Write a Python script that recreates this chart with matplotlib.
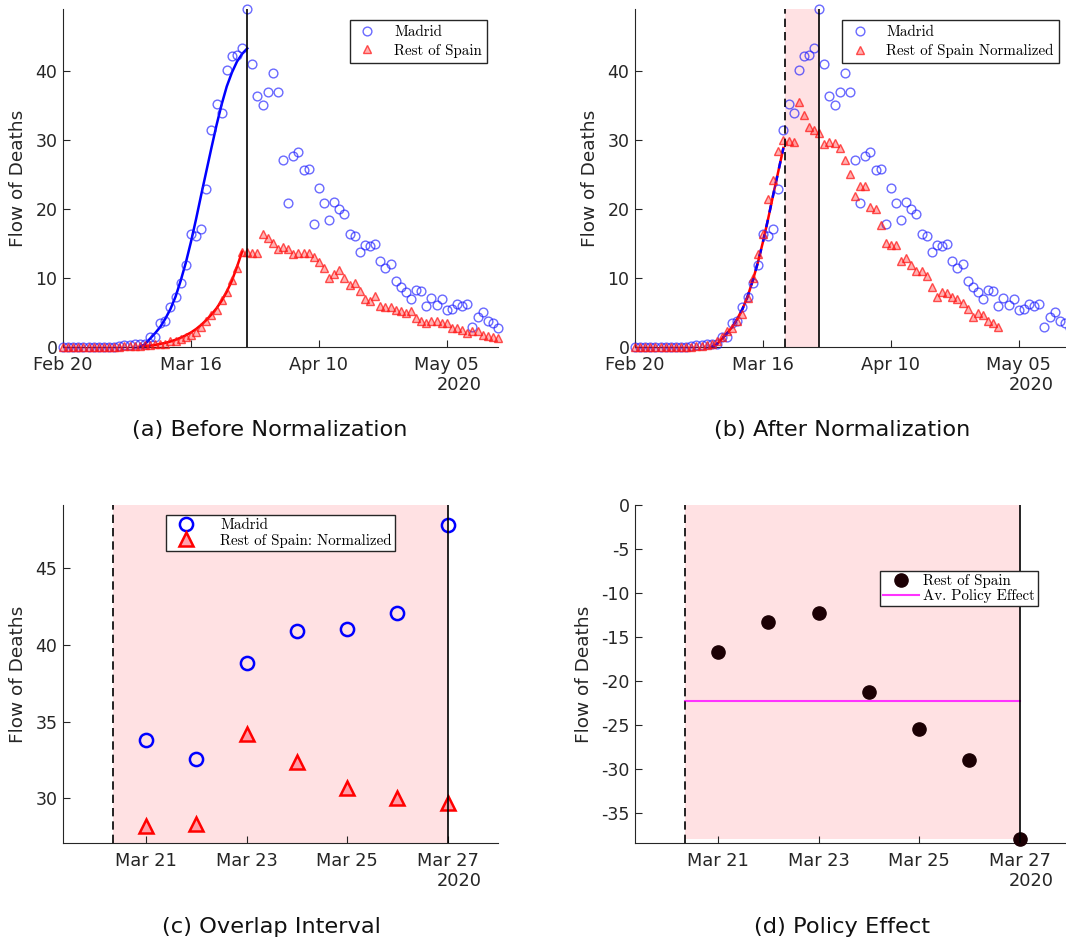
import numpy as np
import pandas as pd
import matplotlib
matplotlib.use('Agg')
import matplotlib.pyplot as plt
import matplotlib.dates as mdates
from matplotlib.lines import Line2D

plt.rcParams['axes.unicode_minus'] = False

# ---------------- data ----------------
series_start = '2020-02-20'
madrid = [0, 0, 0, 0, 0, 0, 0, 0, 0, 0, 0, 0.1, 0.3, 0.3, 0.4, 0.4, 0.5,
          1.5, 1.4, 3.5, 3.7, 5.8, 7.2, 9.2, 11.8, 16.4, 16.1, 17.1, 22.9,
          31.4, 35.1, 33.8, 40.1, 42.1, 42.2, 43.3, 48.9, 41.0, 36.3, 35.0,
          36.9, 39.6, 36.9, 27.0, 20.9, 27.7, 28.2, 25.6, 25.8, 17.8, 23.0,
          20.9, 18.4, 21.0, 19.9, 19.3, 16.4, 16.0, 13.8, 14.8, 14.6, 14.9,
          12.4, 11.4, 12.0, 9.5, 8.7, 8.0, 6.9, 8.2, 8.1, 6.0, 7.1, 6.1, 7.0,
          5.3, 5.5, 6.2, 6.0, 6.2, 2.9, 4.3, 5.0, 3.7, 3.5, 2.75]
rest_raw = [0, 0, 0, 0, 0, 0, 0, 0, 0, 0, 0, 0, 0.1, 0.1, 0.2, 0.2, 0.3,
            0.3, 0.4, 0.5, 0.5, 0.8, 0.9, 1.1, 1.4, 1.8, 2.2, 2.9, 3.7, 4.6,
            5.4, 6.8, 8.0, 9.7, 11.4, 13.8, 13.7, 13.6, 13.6, 16.4, 15.7,
            15.1, 14.2, 14.5, 14.2, 13.4, 13.6, 13.6, 13.6, 13.0, 12.3, 11.4,
            10.0, 10.5, 11.1, 10.0, 8.9, 9.3, 8.1, 6.9, 6.6, 7.4, 5.9, 5.8,
            5.8, 5.4, 5.2, 4.9, 5.2, 4.2, 3.7, 3.5, 3.7, 3.7, 3.5, 3.5, 2.75,
            2.75, 2.5, 2.0, 2.3, 2.3, 1.8, 1.6, 1.5, 1.3]
rest_norm = [0, 0, 0, 0, 0, 0, 0, 0, 0, 0, 0, 0, 0.1, 0.2, 0.3, 0.5, 0.8,
             1.5, 2.3, 2.8, 3.7, 4.8, 7.1, 10.0, 13.4, 16.3, 21.4, 24.2,
             28.4, 29.9, 29.8, 29.7, 35.4, 33.6, 31.9, 31.4, 31.0, 29.3,
             29.6, 29.5, 28.8, 27.1, 25.0, 21.8, 23.3, 23.3, 20.3, 19.9,
             17.7, 15.1, 14.8, 14.8, 12.4, 12.9, 11.9, 11.0, 11.0, 10.2, 8.7,
             7.3, 7.9, 7.8, 7.3, 6.9, 6.4, 5.5, 4.4, 4.9, 4.7, 3.7, 3.4, 2.85]

fit_madrid_start = '2020-03-06'
fit_madrid = [0.0, 0.4, 1.2, 2.0, 2.9, 4.1, 5.5, 7.3, 9.6, 12.2, 15.2, 18.5,
              22.0, 25.4, 28.8, 32.1, 35.1, 37.7, 39.7, 41.3, 42.4, 43.2]
fit_rest_start = '2020-03-07'
fit_rest_raw = [0.1, 0.2, 0.3, 0.45, 0.6, 0.8, 1.05, 1.35, 1.7, 2.1, 2.6,
                3.2, 3.9, 4.7, 5.6, 6.7, 8.0, 9.6, 11.6, 13.8]
fit_norm_end = '2020-03-20'

overlap_dates = ['2020-03-21', '2020-03-22', '2020-03-23', '2020-03-24',
                 '2020-03-25', '2020-03-26', '2020-03-27']
overlap_madrid = [33.8, 32.6, 38.8, 40.9, 41.0, 42.1, 47.8]
overlap_rest = [28.2, 28.35, 34.2, 32.35, 30.7, 30.0, 29.7]
policy_effect = [-16.7, -13.3, -12.3, -21.2, -25.5, -29.0, -38.0]
avg_policy_effect = -22.3

interval_start = '2020-03-20 08:24'
interval_end = '2020-03-27'

ticks_ab = ['2020-02-20', '2020-03-16', '2020-04-10', '2020-05-05']
ticks_cd = ['2020-03-21', '2020-03-23', '2020-03-25', '2020-03-27']
yticks_a = [0, 10, 20, 30, 40]
yticks_c = [30, 35, 40, 45]
yticks_d = [0, -5, -10, -15, -20, -25, -30, -35]
captions = ['(a) Before Normalization', '(b) After Normalization',
            '(c) Overlap Interval', '(d) Policy Effect']
year_label = '2020'

# ---------------- derived ----------------
d_madrid = pd.date_range(series_start, periods=len(madrid))
d_raw = pd.date_range(series_start, periods=len(rest_raw))
d_norm = pd.date_range(series_start, periods=len(rest_norm))
d_fit_m = pd.date_range(fit_madrid_start, periods=len(fit_madrid))
d_fit_r = pd.date_range(fit_rest_start, periods=len(fit_rest_raw))
d_over = pd.to_datetime(overlap_dates)
t_start = pd.Timestamp(interval_start)
t_end = pd.Timestamp(interval_end)
norm_mask = d_fit_m <= pd.Timestamp(fit_norm_end)

W, H = 1066, 942
fig = plt.figure(figsize=(W / 100, H / 100), dpi=100)

def px_axes(l, t, r, b):
    return fig.add_axes([l / W, 1 - b / H, (r - l) / W, (b - t) / H])

ax_a = px_axes(63, 9, 498, 347)
ax_b = px_axes(635, 9, 1070, 347)
ax_c = px_axes(63, 505, 498, 843)
ax_d = px_axes(635, 505, 1070, 843)

GRAY = '#262626'
LEGFONT = {'family': 'cmr10', 'size': 10.8}
PINK = '#ffe1e3'

def style(ax, ticks, fmt):
    for s in ['top', 'right']:
        ax.spines[s].set_visible(False)
    for s in ['left', 'bottom']:
        ax.spines[s].set_color(GRAY)
        ax.spines[s].set_linewidth(0.8)
    ax.tick_params(direction='in', length=5, width=0.8, colors=GRAY)
    ax.tick_params(axis='x', labelsize=12.8, pad=6.5)
    ax.tick_params(axis='y', labelsize=12.5, pad=4)
    ax.set_xticks(pd.to_datetime(ticks))
    ax.xaxis.set_major_formatter(mdates.DateFormatter(fmt))
    ax.set_ylabel('Flow of Deaths', fontsize=13.3, color=GRAY, labelpad=6)
    last = pd.Timestamp(ticks[-1])
    ax.annotate(year_label, xy=(mdates.date2num(last), 0),
                xycoords=ax.get_xaxis_transform(), xytext=(12, -38),
                textcoords='offset pixels', ha='center', va='center',
                fontsize=12.8, color=GRAY)

circ_kw = dict(ls='none', marker='o', ms=6.3, mfc='none',
               mec=(0.1, 0.1, 1.0, 0.65), mew=1.0)
tri_kw = dict(ls='none', marker='^', ms=6.3, mfc=(1, 0, 0, 0.3),
              mec=(1, 0.1, 0.1, 0.75), mew=1.0)
leg_common = dict(prop=LEGFONT, fancybox=False, edgecolor=GRAY,
                  framealpha=1, borderaxespad=0)

# ---- (a) ----
ax = ax_a
ax.plot(d_fit_m, fit_madrid, color='#0000ff', lw=1.8, zorder=2)
ax.plot(d_fit_r, fit_rest_raw, color='#ff0000', lw=1.8, zorder=2)
ax.plot(d_madrid, madrid, zorder=3, clip_on=False, **circ_kw)
ax.plot(d_raw, rest_raw, zorder=3, clip_on=False, **tri_kw)
ax.axvline(t_end, color='k', lw=1.2, zorder=4)
ax.set_xlim(d_madrid[0], d_madrid[-1])
ax.set_ylim(0, max(madrid))
ax.set_yticks(yticks_a)
style(ax, ticks_ab, '%b %d')
ax.legend([Line2D([], [], **circ_kw), Line2D([], [], **tri_kw)],
          ['Madrid', 'Rest of Spain'], loc='upper right',
          bbox_to_anchor=(0.975, 0.967), handlelength=1.6,
          borderpad=0.35, labelspacing=0.3, handletextpad=1.0, **leg_common)

# ---- (b) ----
ax = ax_b
ax.axvspan(t_start, t_end, color=PINK, zorder=0, lw=0)
ax.plot(d_fit_m[norm_mask], np.array(fit_madrid)[norm_mask],
        color='#ff0000', lw=1.8, zorder=2)
ax.plot(d_fit_m[norm_mask], np.array(fit_madrid)[norm_mask],
        color='#0000ff', lw=1.8, ls=(0, (3, 3)), zorder=2)
ax.plot(d_madrid, madrid, zorder=3, clip_on=False, **circ_kw)
ax.plot(d_norm, rest_norm, zorder=3, clip_on=False, **tri_kw)
ax.axvline(t_end, color='k', lw=1.2, zorder=4)
ax.axvline(t_start, color='k', lw=1.2, ls=(0, (5, 3)), zorder=4)
ax.set_xlim(d_madrid[0], d_madrid[-1])
ax.set_ylim(0, max(madrid))
ax.set_yticks(yticks_a)
style(ax, ticks_ab, '%b %d')
ax.legend([Line2D([], [], **circ_kw), Line2D([], [], **tri_kw)],
          ['Madrid', 'Rest of Spain Normalized'], loc='upper right',
          bbox_to_anchor=(0.975, 0.967), handlelength=1.6,
          borderpad=0.35, labelspacing=0.3, handletextpad=1.0, **leg_common)

# ---- (c) ----
ax = ax_c
ax.axvspan(t_start, t_end, color=PINK, zorder=0, lw=0)
circ_c = dict(ls='none', marker='o', ms=9.5, mfc='none', mec='#0000ff',
              mew=1.8)
tri_c = dict(ls='none', marker='^', ms=9.5, mfc=(1, 0.55, 0.6, 0.8),
             mec='#ff0000', mew=1.8)
ax.plot(d_over, overlap_madrid, zorder=3, **circ_c)
ax.plot(d_over, overlap_rest, zorder=3, **tri_c)
ax.axvline(t_end, color='k', lw=1.2, zorder=4)
ax.axvline(t_start, color='k', lw=1.2, ls=(0, (5, 3)), zorder=4)
ax.set_xlim(t_start - pd.Timedelta(days=1), t_end + pd.Timedelta(days=1))
ax.set_ylim(27.1, 49.1)
ax.set_yticks(yticks_c)
style(ax, ticks_cd, '%b %d')
ax.legend([Line2D([], [], **circ_c), Line2D([], [], **tri_c)],
          ['Madrid', 'Rest of Spain: Normalized'], loc='upper center',
          bbox_to_anchor=(0.5, 0.97), handlelength=2.2,
          borderpad=0.2, labelspacing=0.1, handletextpad=1.2, **leg_common)

# ---- (d) ----
ax = ax_d
ax.fill_between([t_start, t_end], min(policy_effect), 0, color=PINK,
                zorder=0, lw=0)
dot_d = dict(ls='none', marker='o', ms=9.5, mfc='#1c0004', mec='#1c0004')
ax.plot(d_over, policy_effect, zorder=3, clip_on=False, **dot_d)
ax.plot([t_start, t_end], [avg_policy_effect] * 2, color='#ff33ff', lw=1.5,
        zorder=2)
ax.axvline(t_end, color='k', lw=1.2, zorder=4)
ax.axvline(t_start, color='k', lw=1.2, ls=(0, (5, 3)), zorder=4)
ax.set_xlim(t_start - pd.Timedelta(days=1), t_end + pd.Timedelta(days=1))
ax.set_ylim(-38.4, 0)
ax.set_yticks(yticks_d)
style(ax, ticks_cd, '%b %d')
ax.legend([Line2D([], [], **dot_d),
           Line2D([], [], color='#ff33ff', lw=1.5)],
          ['Rest of Spain', 'Av. Policy Effect'], loc='upper left',
          bbox_to_anchor=(0.563, 0.805), handlelength=2.4,
          borderpad=0.2, labelspacing=0.1, handletextpad=0.3, **leg_common)

# ---- captions ----
cap_pos = [(270, 430), (842, 430), (271, 927), (842, 927)]
for (x, y), cap in zip(cap_pos, captions):
    fig.text(x / W, 1 - y / H, cap, ha='center', va='center', fontsize=16.2,
             color='#111111')

fig.savefig('out.png', dpi=100)
